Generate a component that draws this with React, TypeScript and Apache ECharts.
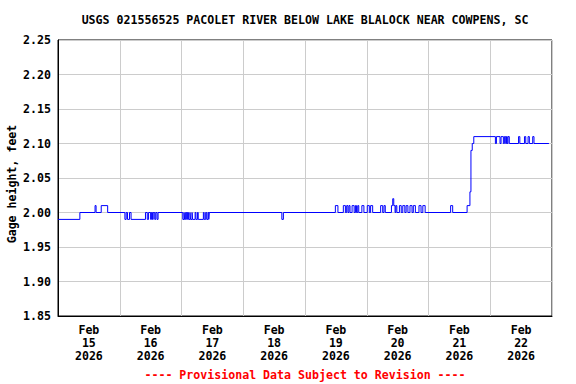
import React, { useEffect, useRef } from "react";
import * as echarts from "echarts";

const titleText = "USGS 021556525 PACOLET RIVER BELOW LAKE BLALOCK NEAR COWPENS, SC";
const footerText = "---- Provisional Data Subject to Revision ----";
const yAxisName = "Gage height, feet";

const dayMonth = ["Feb", "Feb", "Feb", "Feb", "Feb", "Feb", "Feb", "Feb"];
const dayNumbers = ["15", "16", "17", "18", "19", "20", "21", "22"];
const dayYears = ["2026", "2026", "2026", "2026", "2026", "2026", "2026", "2026"];

const yMin = 1.85;
const yMax = 2.25;
const yStep = 0.05;
const hoursSpan = 192;

// hours since Feb 15 00:00 at which each level begins
const stepHours = [
  0, 8.5, 14.4, 14.8, 16.8, 19.3, 26.0, 26.5, 27.0, 27.8, 28.4, 34.0, 34.7, 35.2, 36.0, 36.3,
  36.7, 37.0, 37.6, 38.0, 38.5, 38.9, 48.5, 49.0, 49.2, 49.6, 50.0, 50.3, 50.7, 51.3, 51.5,
  52.1, 52.3, 53.3, 53.6, 54.2, 54.5, 56.5, 56.8, 57.4, 57.8, 58.3, 58.6, 58.8, 87.0, 87.6,
  107.8, 108.8, 110.9, 111.7, 112.2, 112.7, 113.1, 113.5, 114.3, 115.1, 115.6, 116.0, 116.5,
  116.9, 118.1, 118.9, 120.2, 121.0, 121.5, 122.3, 125.4, 126.2, 126.7, 127.2, 129.6, 130.1,
  130.5, 131.0, 131.3, 131.7, 132.7, 133.4, 134.0, 134.8, 135.3, 136.0, 136.8, 137.6, 138.1,
  138.9, 140.3, 141.1, 141.8, 142.7, 152.6, 153.4, 159.0, 160.1, 160.5, 161.0, 161.6, 170.0,
  170.4, 171.8, 172.2, 173.1, 173.5, 174.0, 174.3, 174.6, 174.9, 175.4, 179.0, 179.5, 181.3,
  181.8, 182.7, 183.2, 184.5, 185.0, 190.8,
];
const stepLevels = [
  1.99, 2.0, 2.01, 2.0, 2.01, 2.0, 1.99, 2.0, 1.99, 2.0, 1.99, 2.0, 1.99, 2.0, 1.99, 2.0,
  1.99, 2.0, 1.99, 2.0, 1.99, 2.0, 1.99, 2.0, 1.99, 2.0, 1.99, 2.0, 1.99, 2.0, 1.99,
  2.0, 1.99, 2.0, 1.99, 2.0, 1.99, 2.0, 1.99, 2.0, 1.99, 2.0, 1.99, 2.0, 1.99, 2.0,
  2.01, 2.0, 2.01, 2.0, 2.01, 2.0, 2.01, 2.0, 2.01, 2.0, 2.01, 2.0, 2.01,
  2.0, 2.01, 2.0, 2.01, 2.0, 2.01, 2.0, 2.01, 2.0, 2.01, 2.0, 2.01, 2.02,
  2.01, 2.0, 2.01, 2.0, 2.01, 2.0, 2.01, 2.0, 2.01, 2.0, 2.01, 2.0, 2.01,
  2.0, 2.01, 2.0, 2.01, 2.0, 2.01, 2.0, 2.01, 2.03, 2.09, 2.1, 2.11, 2.1,
  2.11, 2.1, 2.11, 2.1, 2.11, 2.1, 2.11, 2.1, 2.11, 2.1, 2.11, 2.1, 2.11,
  2.1, 2.11, 2.1, 2.11, 2.1, 2.1,
];

const FONT = "'DejaVu Sans Mono', 'Liberation Mono', monospace";
const FS = 11.6;

export default function App() {
  const ref = useRef<HTMLDivElement>(null);
  useEffect(() => {
    if (!ref.current) return;
    const chart = echarts.init(ref.current, null, { renderer: "svg" });
    const labels = dayMonth.map((m, i) => `${m}\n${dayNumbers[i]}\n${dayYears[i]}`);
    const data = stepHours.map((h, i) => [h, stepLevels[i]]);
    const textStyle = (text: string, fill: string) => ({
      text,
      fill,
      font: `bold ${FS}px ${FONT}`,
      align: "center",
      verticalAlign: "middle",
      textAlign: "center",
      textVerticalAlign: "middle",
    });
    chart.setOption({
      animation: false,
      backgroundColor: "#ffffff",
      grid: {
        left: 58,
        top: 40,
        right: 24,
        bottom: 68,
        containLabel: false,
        outerBoundsMode: "none",
        show: true,
        borderColor: "#000000",
        borderWidth: 1,
        backgroundColor: "transparent",
      },
      graphic: [
        { type: "text", x: 305, y: 20, style: textStyle(titleText, "#000000") },
        { type: "text", x: 305, y: 375, style: textStyle(footerText, "#ff0000") },
        {
          type: "text",
          x: 12,
          y: 184,
          rotation: Math.PI / 2,
          style: textStyle(yAxisName, "#000000"),
        },
      ],
      xAxis: [
        {
          type: "category",
          data: labels,
          boundaryGap: true,
          position: "bottom",
          axisLine: { show: true, lineStyle: { color: "#000000", width: 1 } },
          axisTick: { show: false },
          splitLine: { show: true, interval: 0, lineStyle: { color: "#cccccc", width: 1 } },
          axisLabel: {
            interval: 0,
            margin: 7,
            color: "#000000",
            fontFamily: FONT,
            fontWeight: "bold",
            fontSize: FS,
            lineHeight: 13,
            align: "center",
          },
        },
        {
          type: "value",
          min: 0,
          max: hoursSpan,
          show: false,
          splitLine: { show: false },
        },
      ],
      yAxis: {
        type: "value",
        min: yMin,
        max: yMax,
        interval: yStep,
        axisLine: { show: true, lineStyle: { color: "#000000", width: 1 } },
        axisTick: { show: false },
        splitLine: { show: true, lineStyle: { color: "#cccccc", width: 1 } },
        axisLabel: {
          margin: 7,
          color: "#000000",
          fontFamily: FONT,
          fontWeight: "bold",
          fontSize: FS,
          formatter: (v: number) => v.toFixed(2),
        },
      },
      series: [
        {
          type: "line",
          xAxisIndex: 1,
          data,
          step: "end",
          showSymbol: false,
          symbol: "none",
          lineStyle: { color: "#0000ff", width: 1 },
          itemStyle: { color: "#0000ff" },
        },
      ],
    });
    return () => chart.dispose();
  }, []);
  return (
    <div
      ref={ref}
      style={{ position: "fixed", left: 0, top: 0, width: 576, height: 384, background: "#fff" }}
    />
  );
}
